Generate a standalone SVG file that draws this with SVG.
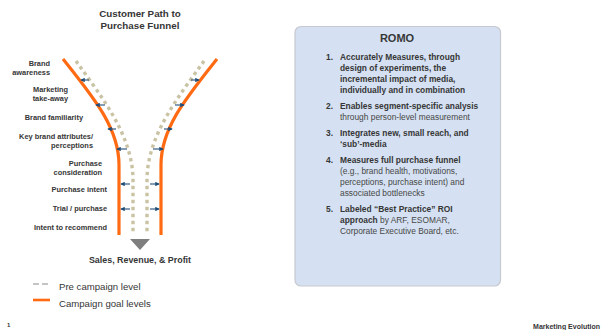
<svg xmlns="http://www.w3.org/2000/svg" width="602" height="330" viewBox="0 0 602 330">
  <defs>
    <marker id="ah" viewBox="0 0 6 6" refX="5" refY="3" markerWidth="4.5" markerHeight="4.5" markerUnits="userSpaceOnUse" orient="auto">
      <path d="M0,0 L6,3 L0,6 z" fill="#1f4e79"/>
    </marker>
    <g id="half">
      <path class="goal" d="M63,59 C94,98 119,128 119,165 L119,235"/>
      <path class="pre" d="M76,61 C100,95 133,135 133,180 L133,234"/>
      <g class="arr">
        <line x1="89" y1="80" x2="81" y2="80"/>
        <line x1="105" y1="105" x2="96" y2="105"/>
        <line x1="116" y1="129" x2="108" y2="129"/>
        <line x1="127" y1="149" x2="117" y2="149"/>
        <line x1="130" y1="184" x2="121" y2="184"/>
        <line x1="130" y1="209" x2="121" y2="209"/>
      </g>
    </g>
  </defs>
  <style>
    text { font-family: "Liberation Sans", Arial, sans-serif; fill: #363636; }
    .b { font-weight: bold; }
    .lbl { font-size: 7.4px; font-weight: bold; text-anchor: end; }
    .ttl { font-size: 9.8px; font-weight: bold; text-anchor: middle; }
    .box { font-size: 8.4px; }
    .reg { font-weight: normal; fill: #474747; }
    .goal { fill: none; stroke: #ff6a13; stroke-width: 3.2; }
    .pre { fill: none; stroke: #c9c3a4; stroke-width: 3.4; stroke-dasharray: 3.4 3.6; }
    .arr line { stroke: #1f4e79; stroke-width: 1.1; marker-end: url(#ah); }
    .leg { font-size: 9.6px; }
  </style>

  <g id="funnel-title">
    <text class="ttl" x="140" y="17">Customer Path to</text>
    <text class="ttl" x="140" y="29">Purchase Funnel</text>
  </g>

  <g id="connectors">
    <use href="#half"/>
    <use href="#half" transform="matrix(-1 0 0 1 280 0)"/>
    <polygon points="130,239 150,239 140,250" fill="#7f7f7f"/>
  </g>

  <g id="stage-labels">
    <text class="lbl" x="50" y="66">Brand</text>
    <text class="lbl" x="50" y="75">awareness</text>
    <text class="lbl" x="68" y="92">Marketing</text>
    <text class="lbl" x="68" y="101">take-away</text>
    <text class="lbl" x="83" y="120">Brand familiarity</text>
    <text class="lbl" x="93" y="139">Key brand attributes/</text>
    <text class="lbl" x="93" y="148">perceptions</text>
    <text class="lbl" x="102" y="166">Purchase</text>
    <text class="lbl" x="102" y="175">consideration</text>
    <text class="lbl" x="107" y="192">Purchase intent</text>
    <text class="lbl" x="107" y="211">Trial / purchase</text>
    <text class="lbl" x="107" y="230">Intent to recommend</text>
  </g>

  <g id="outcome">
    <text class="b" x="140" y="263" font-size="8.9" text-anchor="middle">Sales, Revenue, &amp; Profit</text>
  </g>

  <g id="legend">
    <line x1="33" y1="284" x2="50" y2="284" stroke="#c4c4c4" stroke-width="2.2" stroke-dasharray="6 3"/>
    <text class="leg" x="59" y="290">Pre campaign level</text>
    <line x1="33" y1="300" x2="50" y2="300" stroke="#ff6a13" stroke-width="2.6"/>
    <text class="leg" x="59" y="307">Campaign goal levels</text>
  </g>

  <g id="romo">
    <rect x="295" y="26.5" width="205.5" height="259.5" rx="6" ry="6" fill="#d5e1f2" stroke="#c6c9cf" stroke-width="1.2"/>
    <text class="b" x="397" y="42" font-size="11" text-anchor="middle">ROMO</text>
    <g class="box">
      <text class="b" x="333" y="60" text-anchor="end">1.</text>
      <text class="b" x="340" y="60">Accurately Measures, through</text>
      <text class="b" x="340" y="71">design of experiments, the</text>
      <text class="b" x="340" y="82">incremental impact of media,</text>
      <text class="b" x="340" y="93">individually and in combination</text>

      <text class="b" x="333" y="109" text-anchor="end">2.</text>
      <text class="b" x="340" y="109">Enables segment-specific analysis</text>
      <text class="reg" x="340" y="120">through person-level measurement</text>

      <text class="b" x="333" y="136" text-anchor="end">3.</text>
      <text class="b" x="340" y="136">Integrates new, small reach, and</text>
      <text class="b" x="340" y="147">‘sub’-media</text>

      <text class="b" x="333" y="163" text-anchor="end">4.</text>
      <text class="b" x="340" y="163">Measures full purchase funnel</text>
      <text class="reg" x="340" y="174">(e.g., brand health, motivations,</text>
      <text class="reg" x="340" y="185">perceptions, purchase intent) and</text>
      <text class="reg" x="340" y="196">associated bottlenecks</text>

      <text class="b" x="333" y="212" text-anchor="end">5.</text>
      <text class="b" x="340" y="212">Labeled “Best Practice” ROI</text>
      <text x="340" y="223"><tspan class="b">approach</tspan><tspan class="reg"> by ARF, ESOMAR,</tspan></text>
      <text class="reg" x="340" y="234">Corporate Executive Board, etc.</text>
    </g>
  </g>

  <g id="footer">
    <text class="b" x="7" y="327" font-size="6">1</text>
    <text class="b" x="600" y="328.5" font-size="7" text-anchor="end">Marketing Evolution</text>
  </g>
</svg>
